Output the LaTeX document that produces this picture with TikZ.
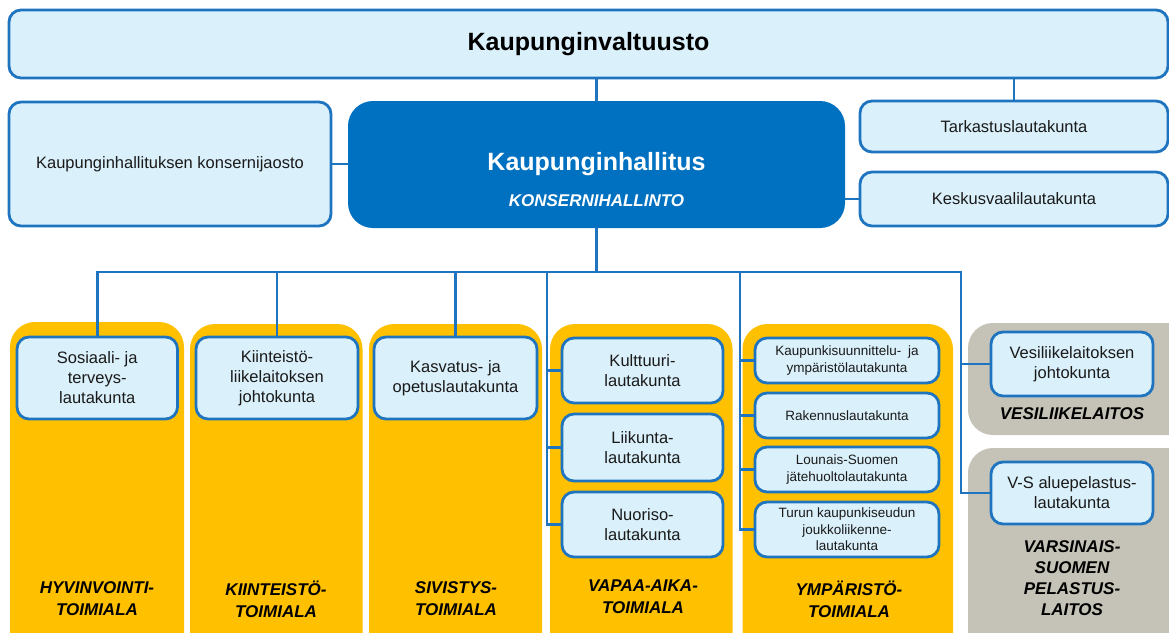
\documentclass[tikz,border=0pt]{standalone}
\usepackage{fontspec}
\setmainfont{Liberation Sans}
\definecolor{bblue}{HTML}{1F74C0}
\definecolor{lfill}{HTML}{DAF0FA}
\definecolor{dblue}{HTML}{0070C0}
\definecolor{yel}{HTML}{FFC000}
\definecolor{gry}{HTML}{C5C3B7}
\definecolor{txt}{HTML}{1A1A1A}
\newcommand\bx[7]{\node[#1, minimum width={#4pt-#2pt}, minimum height={#5pt-#3pt}, anchor=north west] (#6) at (#2,#3) {#7};}
\begin{document}
\begin{tikzpicture}[x=1pt,y=-1pt,
 lbox/.style={draw=bblue, fill=lfill, line width=2.8pt, rounded corners=12pt, text=txt, align=center, inner sep=1pt, outer sep=0pt, font=\fontsize{16.5}{20}\selectfont},
 sbox/.style={lbox, inner sep=0pt, font=\fontsize{13.5}{16.5}\selectfont},
 hbox/.style={fill=dblue, rounded corners=25pt, text=white, outer sep=0pt, inner sep=0pt, font=\fontsize{25}{30}\selectfont\bfseries},
 conn/.style={draw=bblue, line width=2.7pt},
 col/.style={fill=yel, rounded corners=25pt},
 gcol/.style={fill=gry, rounded corners=25pt},
 lab/.style={font=\fontsize{17}{22}\selectfont\bfseries\itshape, align=center, text=black}]
\clip (0,0) rectangle (1169,632);
\fill[white] (0,0) rectangle (1169,632);
% columns
\path[col] (10,322) rectangle (184,690);
\path[col] (190,324) rectangle (362.5,690);
\path[col] (369,324) rectangle (542,690);
\path[col] (550,324) rectangle (732.5,690);
\path[col] (742.5,324) rectangle (953,690);
\path[gcol] (968,323) rectangle (1220,435);
\path[gcol] (968,448) rectangle (1220,690);
% boxes
\bx{lbox, font=\fontsize{25}{30}\selectfont\bfseries, text=black}{9}{10}{1168}{78}{valt}{Kaupunginvaltuusto}
\bx{lbox}{9}{102}{331}{226}{jaosto}{Kaupunginhallituksen konsernijaosto}
\bx{hbox}{348}{101}{845}{228}{hall}{Kaupunginhallitus}
\node[text=white, font=\fontsize{17}{20}\selectfont\bfseries\itshape] (konh) at ([yshift=-36pt]hall.center) {KONSERNIHALLINTO};
\bx{lbox}{860}{101}{1168}{152}{tark}{Tarkastuslautakunta}
\bx{lbox}{860}{172}{1168}{226}{kesk}{Keskusvaalilautakunta}
\bx{lbox}{17}{337}{177.5}{419}{sos}{Sosiaali- ja\\terveys-\\lautakunta}
\bx{lbox}{196}{337}{358}{419}{kiin}{Kiinteistö-\\liikelaitoksen\\johtokunta}
\bx{lbox}{374}{337}{537}{419}{kasv}{Kasvatus- ja\\opetuslautakunta}
\bx{lbox}{562}{338}{723}{403}{kult}{Kulttuuri-\\lautakunta}
\bx{lbox}{562}{414}{723}{481}{liik}{Liikunta-\\lautakunta}
\bx{lbox}{562}{492}{723}{557}{nuor}{Nuoriso-\\lautakunta}
\bx{sbox}{755}{338}{939}{383}{kaup}{Kaupunkisuunnittelu-\hspace{0.5em}ja\\ympäristölautakunta}
\bx{sbox}{755}{393}{939}{438}{rak}{Rakennuslautakunta}
\bx{sbox}{755}{447}{939}{492}{lou}{Lounais-Suomen\\jätehuoltolautakunta}
\bx{sbox}{755}{502}{939}{557}{tur}{Turun kaupunkiseudun\\joukkoliikenne-\\lautakunta}
\bx{lbox}{991}{332}{1153}{396}{vesi}{Vesiliikelaitoksen\\johtokunta}
\bx{lbox}{991}{462}{1153}{524}{vs}{V-S aluepelastus-\\lautakunta}
% labels
\node[lab] (l1) at (97,599) {HYVINVOINTI-\\TOIMIALA};
\node[lab] (l2) at (276,599) {KIINTEISTÖ-\\TOIMIALA};
\node[lab] (l3) at (456,599) {SIVISTYS-\\TOIMIALA};
\node[lab] (l4) at (643,597) {VAPAA-AIKA-\\TOIMIALA};
\node[lab] (l5) at (849,599) {YMPÄRISTÖ-\\TOIMIALA};
\node[lab] (l6) at (1072,414) {VESILIIKELAITOS};
\node[lab, font=\fontsize{17}{21}\selectfont\bfseries\itshape] (l7) at (1072,578) {VARSINAIS-\\SUOMEN\\PELASTUS-\\LAITOS};
% connectors
\coordinate (busL) at (97,272);
\coordinate (busR) at (961,272);
\coordinate (vx) at (547,272);
\coordinate (yx) at (740,272);
\draw[conn] (valt.south -| hall.north) -- (hall.north);
\draw[conn] (tark.north) -- (tark.north |- valt.south);
\draw[conn] (jaosto.east) -- (jaosto.east -| hall.west);
\draw[conn] (hall.east |- kesk.west) -- (kesk.west);
\draw[conn] (hall.south) -- (hall.south |- busL);
\draw[conn] (sos.north) -- (sos.north |- busL) -- (busR) -- (busR |- vs.west) -- (vs.west);
\draw[conn] (kiin.north) -- (kiin.north |- busL);
\draw[conn] (kasv.north) -- (kasv.north |- busL);
\draw[conn] (vx) |- (nuor.west);
\draw[conn] (vx |- kult.west) -- (kult.west);
\draw[conn] (vx |- liik.west) -- (liik.west);
\draw[conn] (yx) |- (tur.west);
\draw[conn] (yx |- kaup.west) -- (kaup.west);
\draw[conn] (yx |- rak.west) -- (rak.west);
\draw[conn] (yx |- lou.west) -- (lou.west);
\draw[conn] (busR |- vesi.west) -- (vesi.west);
\end{tikzpicture}
\end{document}
